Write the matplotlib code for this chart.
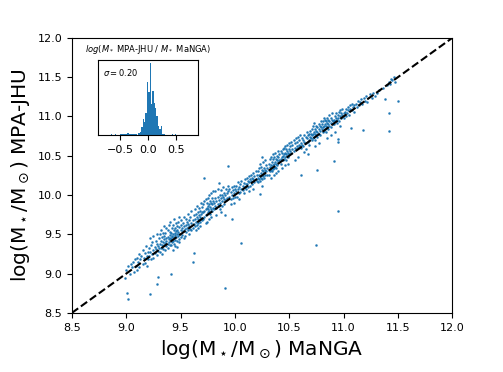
import numpy as np
import matplotlib
matplotlib.use('Agg')
import matplotlib.pyplot as plt

# log stellar masses: x = MaNGA, y = MPA-JHU
x_manga = [
    8.99, 9.00, 9.02, 9.03, 9.04, 9.05, 9.06, 9.07, 9.08, 9.09, 9.10, 9.10, 9.01, 9.02,
    9.11, 9.12, 9.12, 9.13, 9.14, 9.15, 9.15, 9.16, 9.17, 9.17, 9.18, 9.19, 9.19, 9.20, 9.20,
    9.21, 9.21, 9.22, 9.22, 9.23, 9.23, 9.24, 9.24, 9.25, 9.25, 9.25, 9.26, 9.26, 9.27, 9.27,
    9.28, 9.28, 9.28, 9.29, 9.29, 9.30, 9.30, 9.22, 9.28, 9.29,
    9.31, 9.31, 9.31, 9.32, 9.32, 9.32, 9.33, 9.33, 9.33, 9.34, 9.34, 9.34, 9.35, 9.35, 9.35,
    9.35, 9.36, 9.36, 9.36, 9.37, 9.37, 9.37, 9.37, 9.38, 9.38, 9.38, 9.38, 9.39, 9.39, 9.39,
    9.40, 9.40, 9.40, 9.40, 9.40, 9.41,
    9.41, 9.41, 9.41, 9.42, 9.42, 9.42, 9.42, 9.43, 9.43, 9.43, 9.44, 9.44, 9.44, 9.44, 9.45,
    9.45, 9.45, 9.45, 9.46, 9.46, 9.46, 9.47, 9.47, 9.47, 9.47, 9.48, 9.48, 9.48, 9.49, 9.49,
    9.49, 9.49, 9.50, 9.50, 9.50, 9.50, 9.45, 9.43, 9.47, 9.49,
    9.51, 9.51, 9.52, 9.52, 9.53, 9.53, 9.54, 9.54, 9.55, 9.55, 9.55, 9.56, 9.56, 9.57, 9.57,
    9.57, 9.58, 9.58, 9.59, 9.59, 9.60, 9.60, 9.60, 9.53, 9.58, 9.61, 9.62,
    9.61, 9.61, 9.62, 9.62, 9.63, 9.63, 9.63, 9.64, 9.64, 9.65, 9.65, 9.65, 9.66, 9.66, 9.66,
    9.67, 9.67, 9.67, 9.68, 9.68, 9.68, 9.69, 9.69, 9.69, 9.70, 9.70, 9.70, 9.64, 9.66, 9.68, 9.72,
    9.71, 9.71, 9.71, 9.72, 9.72, 9.72, 9.73, 9.73, 9.73, 9.74, 9.74, 9.74, 9.75, 9.75, 9.75,
    9.75, 9.76, 9.76, 9.76, 9.77, 9.77, 9.77, 9.78, 9.78, 9.78, 9.79, 9.79, 9.79, 9.80, 9.80,
    9.80, 9.74, 9.76, 9.78, 9.73,
    9.81, 9.81, 9.82, 9.82, 9.82, 9.83, 9.83, 9.84, 9.84, 9.84, 9.85, 9.85, 9.86, 9.86, 9.86,
    9.87, 9.87, 9.88, 9.88, 9.88, 9.89, 9.89, 9.90, 9.90, 9.90, 9.83, 9.87, 9.85, 9.91, 9.91, 9.97,
    9.91, 9.92, 9.92, 9.93, 9.93, 9.94, 9.94, 9.95, 9.95, 9.96, 9.96, 9.97, 9.97, 9.98, 9.98,
    9.99, 9.99, 10.00, 10.00, 9.94, 9.96, 9.99,
    10.01, 10.01, 10.02, 10.03, 10.03, 10.04, 10.04, 10.05, 10.05, 10.06, 10.06, 10.07, 10.07,
    10.08, 10.08, 10.09, 10.09, 10.10, 10.10, 10.04, 10.06,
    10.11, 10.11, 10.12, 10.12, 10.13, 10.13, 10.14, 10.14, 10.15, 10.15, 10.16, 10.16, 10.17,
    10.17, 10.18, 10.18, 10.19, 10.19, 10.20, 10.20, 10.13, 10.17,
    10.21, 10.21, 10.21, 10.22, 10.22, 10.22, 10.23, 10.23, 10.23, 10.24, 10.24, 10.24, 10.25,
    10.25, 10.25, 10.26, 10.26, 10.26, 10.27, 10.27, 10.27, 10.28, 10.28, 10.28, 10.29, 10.29,
    10.30, 10.30, 10.25, 10.23, 10.25,
    10.31, 10.31, 10.31, 10.32, 10.32, 10.32, 10.33, 10.33, 10.33, 10.34, 10.34, 10.34, 10.35,
    10.35, 10.35, 10.35, 10.36, 10.36, 10.36, 10.37, 10.37, 10.37, 10.38, 10.38, 10.38, 10.39,
    10.39, 10.39, 10.40, 10.40, 10.40, 10.33, 10.36, 10.38, 10.40,
    10.41, 10.41, 10.42, 10.42, 10.42, 10.43, 10.43, 10.44, 10.44, 10.44, 10.45, 10.45, 10.46,
    10.46, 10.46, 10.47, 10.47, 10.48, 10.48, 10.48, 10.49, 10.49, 10.50, 10.50, 10.50, 10.43,
    10.46, 10.49, 10.45, 10.47,
    10.51, 10.51, 10.52, 10.52, 10.53, 10.53, 10.54, 10.54, 10.55, 10.55, 10.56, 10.56, 10.57,
    10.57, 10.58, 10.58, 10.59, 10.59, 10.60, 10.60, 10.55, 10.58,
    10.61, 10.61, 10.62, 10.62, 10.63, 10.63, 10.64, 10.64, 10.65, 10.65, 10.65, 10.66, 10.66,
    10.67, 10.67, 10.68, 10.68, 10.68, 10.69, 10.69, 10.70, 10.70, 10.64, 10.61, 10.67,
    10.71, 10.71, 10.71, 10.72, 10.72, 10.72, 10.73, 10.73, 10.73, 10.74, 10.74, 10.74, 10.75,
    10.75, 10.75, 10.76, 10.76, 10.76, 10.77, 10.77, 10.77, 10.78, 10.78, 10.78, 10.79, 10.79,
    10.80, 10.80, 10.74, 10.77, 10.76, 10.75,
    10.81, 10.81, 10.81, 10.82, 10.82, 10.82, 10.83, 10.83, 10.83, 10.84, 10.84, 10.84, 10.85,
    10.85, 10.85, 10.86, 10.86, 10.86, 10.87, 10.87, 10.87, 10.88, 10.88, 10.88, 10.89, 10.89,
    10.90, 10.90, 10.85, 10.88,
    10.91, 10.91, 10.92, 10.92, 10.93, 10.93, 10.94, 10.94, 10.95, 10.95, 10.96, 10.96, 10.97,
    10.97, 10.98, 10.98, 10.99, 10.99, 11.00, 11.00, 10.92, 10.95, 10.95, 10.91, 10.97, 10.95,
    11.01, 11.02, 11.02, 11.03, 11.04, 11.04, 11.05, 11.06, 11.06, 11.07, 11.08, 11.08, 11.09,
    11.10, 11.10,
    11.11, 11.12, 11.13, 11.14, 11.15, 11.16, 11.17, 11.18, 11.19, 11.20,
    11.21, 11.22, 11.24, 11.26, 11.27, 11.29,
    11.31, 11.33, 11.36, 11.38, 11.40, 11.42, 11.43, 11.44, 11.45, 11.46, 11.47, 11.42, 11.42, 11.50,
]
y_mpa = [
    8.95, 9.05, 9.10, 9.00, 9.12, 9.08, 9.15, 9.02, 9.18, 9.10, 9.05, 9.20, 8.75, 8.68,
    9.15, 9.25, 9.08, 9.18, 9.22, 9.12, 9.30, 9.20, 9.14, 9.26, 9.35, 9.22, 9.10, 9.28, 9.18,
    9.32, 9.22, 9.45, 9.28, 9.18, 9.36, 9.25, 9.40, 9.30, 9.48, 9.20, 9.34, 9.26, 9.42, 9.31,
    9.24, 9.38, 9.50, 9.29, 9.35, 9.45, 9.32, 8.74, 8.87, 8.96,
    9.38, 9.28, 9.50, 9.42, 9.33, 9.56, 9.36, 9.46, 9.25, 9.40, 9.52, 9.31, 9.44, 9.36, 9.60,
    9.48, 9.39, 9.30, 9.52, 9.45, 9.35, 9.58, 9.42, 9.47, 9.38, 9.55, 9.33, 9.44, 9.62, 9.40,
    9.49, 9.37, 9.53, 9.45, 9.66, 9.00,
    9.44, 9.36, 9.52, 9.48, 9.40, 9.58, 9.46, 9.50, 9.42, 9.62, 9.47, 9.38, 9.55, 9.70, 9.49,
    9.43, 9.58, 9.52, 9.46, 9.64, 9.54, 9.50, 9.41, 9.60, 9.56, 9.48, 9.66, 9.53, 9.51, 9.44,
    9.59, 9.72, 9.55, 9.47, 9.62, 9.68, 9.35, 9.30, 9.34, 9.40,
    9.58, 9.49, 9.65, 9.54, 9.60, 9.72, 9.57, 9.48, 9.62, 9.70, 9.53, 9.66, 9.58, 9.63, 9.76,
    9.55, 9.68, 9.60, 9.72, 9.57, 9.65, 9.80, 9.55, 9.45, 9.50, 9.15, 9.26,
    9.68, 9.58, 9.74, 9.63, 9.70, 9.60, 9.82, 9.66, 9.76, 9.72, 9.62, 9.86, 9.70, 9.78, 9.64,
    9.74, 9.68, 9.84, 9.72, 9.80, 9.66, 9.76, 9.90, 9.70, 9.78, 9.68, 9.85, 9.55, 9.58, 9.60, 10.22,
    9.78, 9.70, 9.88, 9.80, 9.72, 9.92, 9.82, 9.74, 9.95, 9.84, 9.76, 9.90, 9.86, 9.78, 9.96,
    9.82, 9.88, 9.80, 10.00, 9.85, 9.92, 9.76, 9.90, 9.82, 10.02, 9.88, 9.96, 9.80, 9.92, 9.84,
    10.05, 9.66, 9.70, 9.72, 9.64,
    9.90, 9.82, 9.96, 9.86, 10.05, 9.92, 9.84, 9.98, 9.88, 10.08, 9.94, 9.86, 10.00, 9.90, 9.82,
    9.96, 10.06, 9.92, 10.00, 9.86, 9.98, 10.10, 9.95, 10.02, 9.88, 9.75, 9.78, 10.15, 8.82, 9.74, 9.69,
    10.00, 9.94, 10.08, 10.02, 9.96, 10.05, 10.12, 9.98, 10.08, 10.04, 9.95, 10.10, 10.00, 10.06, 9.96,
    10.12, 10.03, 10.08, 9.98, 10.37, 9.88, 9.90,
    10.05, 10.12, 9.98, 10.08, 10.16, 10.02, 10.10, 10.14, 10.04, 10.08, 10.18, 10.06, 10.12,
    10.02, 10.15, 10.10, 10.20, 10.08, 10.14, 9.95, 9.39,
    10.14, 10.22, 10.10, 10.18, 10.16, 10.24, 10.12, 10.20, 10.18, 10.26, 10.14, 10.22, 10.20,
    10.28, 10.16, 10.24, 10.20, 10.30, 10.18, 10.25, 10.05, 10.08,
    10.22, 10.30, 10.16, 10.26, 10.20, 10.34, 10.24, 10.18, 10.40, 10.28, 10.22, 10.36, 10.26,
    10.32, 10.20, 10.30, 10.24, 10.42, 10.28, 10.35, 10.22, 10.32, 10.26, 10.45, 10.30, 10.38,
    10.34, 10.26, 10.12, 10.01, 10.49,
    10.32, 10.40, 10.26, 10.36, 10.30, 10.46, 10.38, 10.32, 10.48, 10.36, 10.42, 10.30, 10.38,
    10.46, 10.33, 10.52, 10.40, 10.34, 10.48, 10.42, 10.36, 10.54, 10.40, 10.46, 10.34, 10.44,
    10.50, 10.38, 10.42, 10.48, 10.56, 10.22, 10.25, 10.28, 10.30,
    10.44, 10.52, 10.46, 10.40, 10.56, 10.48, 10.54, 10.50, 10.44, 10.58, 10.52, 10.46, 10.54,
    10.48, 10.62, 10.52, 10.58, 10.50, 10.56, 10.64, 10.54, 10.48, 10.58, 10.52, 10.66, 10.34,
    10.38, 10.40, 10.60, 10.44,
    10.56, 10.62, 10.54, 10.68, 10.58, 10.64, 10.56, 10.70, 10.60, 10.66, 10.58, 10.72, 10.62,
    10.68, 10.60, 10.74, 10.64, 10.70, 10.62, 10.76, 10.45, 10.48,
    10.66, 10.60, 10.72, 10.64, 10.70, 10.62, 10.68, 10.76, 10.66, 10.74, 10.58, 10.72, 10.80,
    10.68, 10.76, 10.70, 10.78, 10.64, 10.74, 10.82, 10.72, 10.78, 10.55, 10.25, 10.52,
    10.76, 10.70, 10.84, 10.78, 10.72, 10.88, 10.80, 10.74, 10.92, 10.78, 10.84, 10.70, 10.82,
    10.88, 10.76, 10.80, 10.86, 10.74, 10.84, 10.90, 10.78, 10.82, 10.88, 10.76, 10.86, 10.94,
    10.84, 10.90, 10.62, 10.66, 10.32, 9.36,
    10.86, 10.80, 10.94, 10.88, 10.82, 10.98, 10.90, 10.84, 10.96, 10.88, 10.94, 10.80, 10.92,
    10.98, 10.86, 10.90, 10.96, 10.84, 10.94, 11.02, 10.88, 10.92, 10.98, 10.86, 10.96, 11.04,
    10.94, 10.90, 10.72, 10.76,
    10.96, 10.90, 11.00, 10.94, 10.98, 11.04, 10.96, 10.92, 11.02, 10.98, 11.06, 10.94, 11.00,
    11.08, 10.98, 11.04, 11.02, 11.10, 11.04, 10.98, 10.80, 10.71, 10.67, 10.43, 10.88, 9.80,
    11.06, 11.00, 11.10, 11.04, 11.08, 11.12, 11.02, 11.10, 11.14, 10.85, 11.08, 11.16, 11.12,
    11.14, 11.06,
    11.16, 11.12, 11.20, 11.14, 11.18, 11.22, 11.16, 10.83, 11.24, 11.20,
    11.26, 11.18, 11.28, 11.24, 11.30, 11.26,
    11.30, 11.34, 11.36, 11.22, 11.40, 11.44, 11.42, 11.48, 11.46, 11.50, 11.44, 11.04, 10.82, 11.20,
]

x_manga = np.array(x_manga)
y_mpa = np.array(y_mpa)
diff = y_mpa - x_manga
sigma = 0.20

fig = plt.figure(figsize=(5.03, 3.72), dpi=100)
ax = fig.add_axes([0.143, 0.159, 0.756, 0.739])
ax.scatter(x_manga, y_mpa, s=2, c='C0', linewidths=0.3)
ax.plot([8.5, 12.0], [8.5, 12.0], 'k--', lw=1.5)
ax.set_xlim(8.5, 12.0)
ax.set_ylim(8.5, 12.0)
ax.tick_params(labelsize=8)
ax.set_xlabel(r'log(M$_\star$/M$_\odot$) MaNGA', fontsize=14.5)
ax.set_ylabel(r'log(M$_\star$/M$_\odot$) MPA-JHU', fontsize=14.5)

# inset histogram
axin = fig.add_axes([0.195, 0.637, 0.199, 0.202])
axin.hist(diff, bins=np.arange(-0.9, 0.9, 0.025), color='C0')
axin.set_xlim(-0.9, 0.9)
axin.set_yticks([])
axin.tick_params(labelsize=8)
axin.set_title(r'$log$($M_*$ MPA-JHU / $M_*$ MaNGA)', fontsize=6)
axin.text(0.05, 0.9, r'$\sigma=$%.2f' % sigma, transform=axin.transAxes,
          fontsize=6, va='top')

fig.savefig('out.png', dpi=100)
